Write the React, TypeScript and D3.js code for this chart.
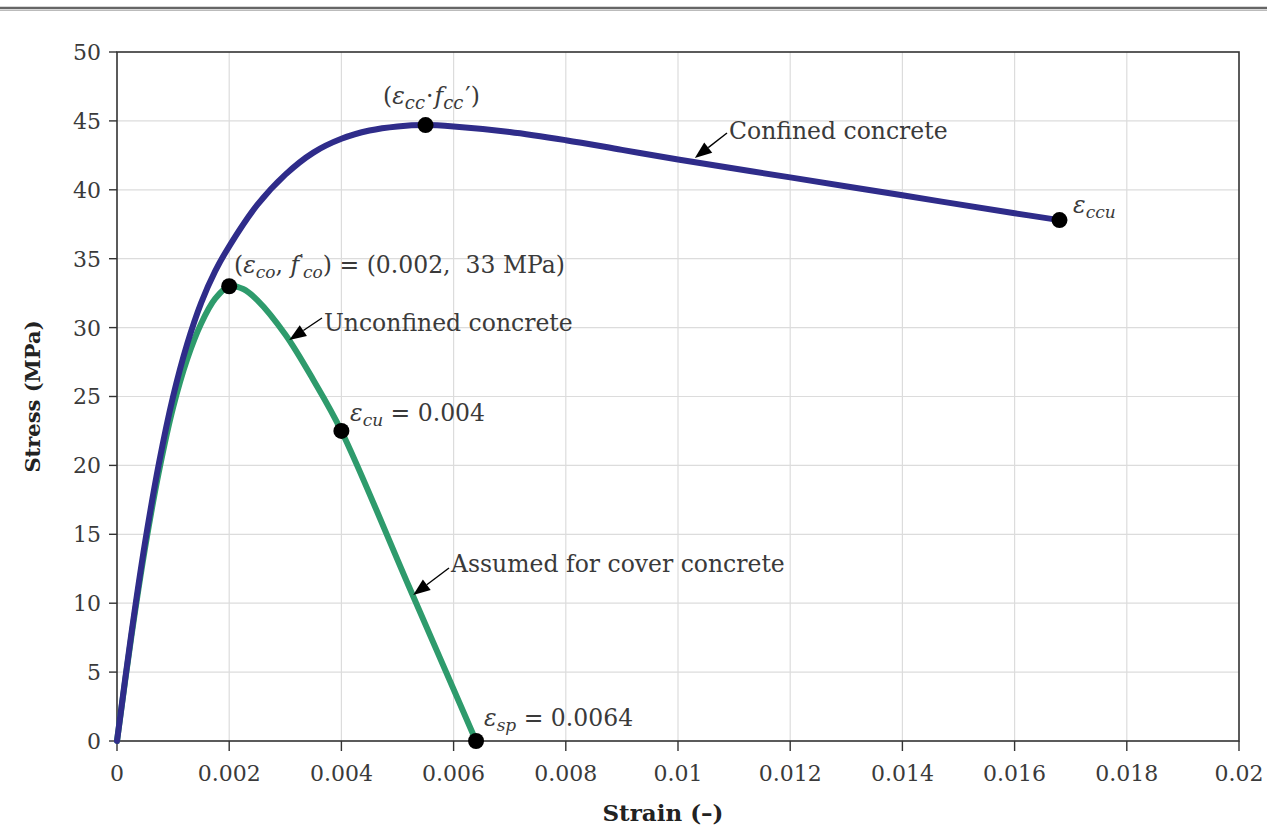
import React, { useEffect } from "react";
import * as d3 from "d3";

// strain (-) / stress (MPa)
const confinedStrain = [0, 0.00025, 0.0005, 0.00075, 0.001, 0.00125, 0.0015, 0.00175, 0.002, 0.0025, 0.003, 0.0035, 0.004, 0.0045, 0.005, 0.0055, 0.006, 0.007, 0.008, 0.009, 0.01, 0.012, 0.014, 0.016, 0.0168];
const confinedStress = [0, 7.6, 14.4, 20.2, 25.0, 28.8, 31.8, 34.1, 35.9, 38.9, 41.1, 42.7, 43.7, 44.3, 44.6, 44.7, 44.6, 44.2, 43.6, 42.9, 42.2, 40.9, 39.6, 38.3, 37.8];

const unconfinedStrain = [0, 0.00025, 0.0005, 0.00075, 0.001, 0.00125, 0.0015, 0.00175, 0.002, 0.00225, 0.0025, 0.003, 0.0035, 0.004, 0.0052, 0.0064];
const unconfinedStress = [0, 7.4, 14.0, 19.6, 24.2, 27.7, 30.3, 32.1, 33.0, 32.8, 32.0, 29.5, 26.2, 22.5, 11.25, 0];

const keyStrain = [0.0055, 0.0168, 0.002, 0.004, 0.0064];
const keyStress = [44.7, 37.8, 33, 22.5, 0];

const xTicks = [0, 0.002, 0.004, 0.006, 0.008, 0.01, 0.012, 0.014, 0.016, 0.018, 0.02];
const yTicks = [0, 5, 10, 15, 20, 25, 30, 35, 40, 45, 50];

const W = 1267;
const H = 833;
const margin = { left: 117, right: 28, top: 52, bottom: 92 };

const serif = "'DejaVu Serif', serif";
const ink = "#3a3a3a";

type Pt = [number, number];

const App = () => {
  useEffect(() => {
    document.body.style.margin = "0";
  }, []);

  const x = d3.scaleLinear().domain([0, 0.02]).range([margin.left, W - margin.right]);
  const y = d3.scaleLinear().domain([0, 50]).range([H - margin.bottom, margin.top]);

  const line = d3
    .line<Pt>()
    .x((d) => x(d[0]))
    .y((d) => y(d[1]))
    .curve(d3.curveCatmullRom.alpha(0.5));

  const confined: Pt[] = confinedStrain.map((s, i) => [s, confinedStress[i]]);
  const unconfined: Pt[] = unconfinedStrain.map((s, i) => [s, unconfinedStress[i]]);

  // arrow: from label start to tip on the curve
  const arrow = (x1: number, y1: number, x2: number, y2: number, key: string) => {
    const ang = Math.atan2(y2 - y1, x2 - x1);
    const len = 17;
    const half = 6.5;
    const bx = x2 - len * Math.cos(ang);
    const by = y2 - len * Math.sin(ang);
    const px = -Math.sin(ang) * half;
    const py = Math.cos(ang) * half;
    return (
      <g key={key}>
        <line x1={x1} y1={y1} x2={bx} y2={by} stroke="#000" strokeWidth={1.4} />
        <path d={`M${x2},${y2}L${bx + px},${by + py}L${bx - px},${by - py}Z`} fill="#000" />
      </g>
    );
  };

  const fs = 23.5;
  const sub = 17;
  const tickFs = 22;

  return (
    <svg width={W} height={H} style={{ display: "block", background: "#fff" }}>
      {/* page rule */}
      <line x1={0} x2={W} y1={8} y2={8} stroke="#666" strokeWidth={2.5} />
      <line x1={0} x2={W} y1={10.5} y2={10.5} stroke="#bbb" strokeWidth={1} />

      {/* grid */}
      {xTicks.slice(1, -1).map((t) => (
        <line key={"gx" + t} x1={x(t)} x2={x(t)} y1={y(50)} y2={y(0)} stroke="#dcdcdc" strokeWidth={1.2} />
      ))}
      {yTicks.slice(1, -1).map((t) => (
        <line key={"gy" + t} x1={x(0)} x2={x(0.02)} y1={y(t)} y2={y(t)} stroke="#dcdcdc" strokeWidth={1.2} />
      ))}

      {/* frame */}
      <rect x={x(0)} y={y(50)} width={x(0.02) - x(0)} height={y(0) - y(50)} fill="none" stroke="#333" strokeWidth={1.6} />

      {/* y axis ticks */}
      {yTicks.map((t) => (
        <g key={"yt" + t}>
          <line x1={x(0) - 8} x2={x(0)} y1={y(t)} y2={y(t)} stroke="#333" strokeWidth={1.4} />
          <text x={x(0) - 16} y={y(t)} dy="0.36em" textAnchor="end" fontFamily={serif} fontSize={tickFs} fill={ink}>
            {t}
          </text>
        </g>
      ))}

      {/* x axis ticks */}
      {xTicks.map((t) => (
        <g key={"xt" + t}>
          <line x1={x(t)} x2={x(t)} y1={y(0)} y2={y(0) + 10} stroke="#333" strokeWidth={1.4} />
          <text x={x(t)} y={y(0) + 40} textAnchor="middle" fontFamily={serif} fontSize={tickFs} fill={ink}>
            {String(t)}
          </text>
        </g>
      ))}

      {/* axis titles */}
      <text
        transform={`translate(40,${(y(0) + y(50)) / 2}) rotate(-90)`}
        textAnchor="middle"
        fontFamily={serif}
        fontWeight="bold"
        fontSize={21}
        fill="#222"
      >
        Stress (MPa)
      </text>
      <text x={(x(0) + x(0.02)) / 2 - 15} y={H - 12} textAnchor="middle" fontFamily={serif} fontWeight="bold" fontSize={23} fill="#222">
        Strain (–)
      </text>

      {/* curves */}
      <path d={line(unconfined) || ""} fill="none" stroke="#2e9b6c" strokeWidth={6} strokeLinejoin="round" strokeLinecap="round" />
      <path d={line(confined) || ""} fill="none" stroke="#2f2c8a" strokeWidth={6} strokeLinejoin="round" strokeLinecap="round" />

      {/* key points */}
      {keyStrain.map((s, i) => (
        <circle key={"k" + i} cx={x(s)} cy={y(keyStress[i])} r={8} fill="#000" />
      ))}

      {/* arrows */}
      {arrow(727, 133, x(0.0103), y(42.3), "a1")}
      {arrow(322, 318, x(0.00307), y(29.1), "a2")}
      {arrow(449, 568, x(0.00528), y(10.6), "a3")}

      {/* annotations */}
      <g fontFamily={serif} fontSize={fs} fill={ink}>
        <text x={383} y={104}>
          (<tspan fontStyle="italic">ε</tspan>
          <tspan fontStyle="italic" fontSize={sub + 1} dy={5}>cc</tspan>
          <tspan dy={-5} dx={1}>·</tspan>
          <tspan fontStyle="italic" dx={1}>f</tspan>
          <tspan fontStyle="italic" fontSize={sub + 1} dy={5}>cc</tspan>
          <tspan dy={-5} dx={2}>′)</tspan>
        </text>
        <text x={729} y={139}>Confined concrete</text>
        <text x={1073} y={213}>
          <tspan fontStyle="italic">ε</tspan>
          <tspan fontStyle="italic" fontSize={sub} dy={5}>ccu</tspan>
        </text>
        <text x={234} y={273}>
          (<tspan fontStyle="italic">ε</tspan>
          <tspan fontStyle="italic" fontSize={sub} dy={5}>co</tspan>
          <tspan dy={-5}>, </tspan>
          <tspan fontStyle="italic">f</tspan>
          <tspan fontSize={sub} dy={-7}>′</tspan>
          <tspan fontStyle="italic" fontSize={sub} dy={12}>co</tspan>
          <tspan dy={-5}>{") = (0.002,\u00a0 33 MPa)"}</tspan>
        </text>
        <text x={324} y={331}>Unconfined concrete</text>
        <text x={350} y={421}>
          <tspan fontStyle="italic">ε</tspan>
          <tspan fontStyle="italic" fontSize={sub} dy={5}>cu</tspan>
          <tspan dy={-5}> = 0.004</tspan>
        </text>
        <text x={451} y={572}>Assumed for cover concrete</text>
        <text x={484} y={726}>
          <tspan fontStyle="italic">ε</tspan>
          <tspan fontStyle="italic" fontSize={sub} dy={5}>sp</tspan>
          <tspan dy={-5}> = 0.0064</tspan>
        </text>
      </g>
    </svg>
  );
};

export default App;
